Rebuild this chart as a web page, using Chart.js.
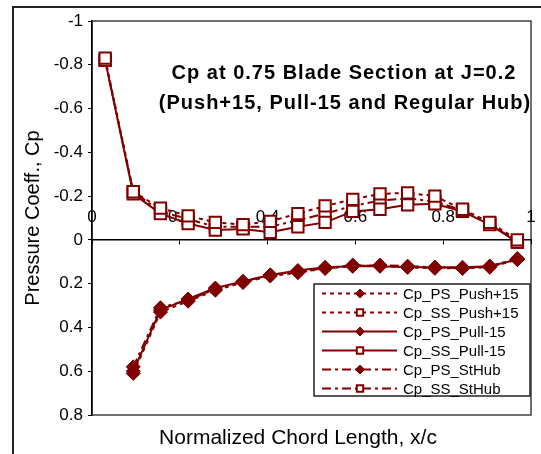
<!DOCTYPE html>
<html>
<head>
<meta charset="utf-8">
<script src="https://cdn.jsdelivr.net/npm/chart.js@4.4.0/dist/chart.umd.min.js"></script>
<style>
    html, body { margin: 0; padding: 0; background: #fff; }
    #wrap { position: relative; width: 541px; height: 454px; }
</style>
</head>
<body>
<div id="wrap"><canvas id="cp-chart" width="541" height="454"></canvas></div>
<script>
// chord stations (x/c)
const xSS = [0.03, 0.094, 0.156, 0.219, 0.281, 0.344, 0.406, 0.469, 0.531, 0.594, 0.656, 0.719, 0.781, 0.844, 0.906, 0.969];
const xPS = [0.094, 0.156, 0.219, 0.281, 0.344, 0.406, 0.469, 0.531, 0.594, 0.656, 0.719, 0.781, 0.844, 0.906, 0.969];

// pressure side
const psPush = [0.61, 0.33, 0.28, 0.23, 0.195, 0.165, 0.15, 0.13, 0.115, 0.12, 0.125, 0.13, 0.13, 0.125, 0.09];
const psPull = [0.6, 0.32, 0.27, 0.22, 0.19, 0.16, 0.14, 0.125, 0.12, 0.12, 0.125, 0.125, 0.125, 0.12, 0.09];
const psHub = [0.58, 0.31, 0.275, 0.225, 0.19, 0.16, 0.145, 0.13, 0.12, 0.115, 0.12, 0.125, 0.13, 0.12, 0.085];

// suction side
const ssPush = [-0.83, -0.22, -0.145, -0.11, -0.08, -0.07, -0.085, -0.12, -0.155, -0.185, -0.21, -0.215, -0.2, -0.14, -0.08, 0.0];
const ssPull = [-0.82, -0.21, -0.12, -0.075, -0.045, -0.05, -0.035, -0.06, -0.08, -0.13, -0.14, -0.16, -0.165, -0.13, -0.07, 0.01];
const ssHub = [-0.82, -0.22, -0.13, -0.095, -0.06, -0.06, -0.06, -0.09, -0.12, -0.155, -0.18, -0.19, -0.175, -0.135, -0.075, 0.01];

const seriesNames = ['Cp_PS_Push+15', 'Cp_SS_Push+15', 'Cp_PS_Pull-15', 'Cp_SS_Pull-15', 'Cp_PS_StHub', 'Cp_SS_StHub'];
const titleLines = ['Cp at 0.75 Blade Section at J=0.2', '(Push+15, Pull-15 and Regular Hub)'];
const xTitle = 'Normalized Chord Length, x/c';
const yTitle = 'Pressure Coeff., Cp';

const RED = '#800000';
const FONT = "'Liberation Sans', Arial, sans-serif";

const toPoints = (xs, ys) => xs.map((x, i) => ({ x: x, y: ys[i] }));

const makeSet = (label, xs, ys, dash, isSuction) => ({
    label: label,
    data: toPoints(xs, ys),
    borderColor: RED,
    borderWidth: 2,
    borderDash: dash,
    tension: 0,
    pointStyle: isSuction ? 'rect' : 'rectRot',
    pointRadius: isSuction ? 8 : 7,
    pointBorderWidth: isSuction ? 2 : 1,
    pointBorderColor: RED,
    pointBackgroundColor: isSuction ? '#fff' : RED
});

const dashPush = [4, 4];
const dashPull = [];
const dashHub = [9, 4, 3, 4];

// frame + plot border under the data
const framePlugin = {
    id: 'frame',
    beforeDraw(chart) {
        const ctx = chart.ctx;
        const a = chart.chartArea;
        ctx.save();
        ctx.fillStyle = '#fff';
        ctx.fillRect(0, 0, chart.width, chart.height);
        ctx.strokeStyle = '#222';
        ctx.lineWidth = 2;
        ctx.strokeRect(13, 7, 700, 700);
        ctx.strokeStyle = '#404040';
        ctx.lineWidth = 1.5;
        ctx.strokeRect(a.left, a.top, a.right - a.left, a.bottom - a.top);
        ctx.restore();
    }
};

// titles and legend drawn inside the plot like the excel original
const overlayPlugin = {
    id: 'overlay',
    afterDraw(chart) {
        const ctx = chart.ctx;
        ctx.save();
        ctx.fillStyle = '#000';
        ctx.textAlign = 'center';
        ctx.textBaseline = 'middle';
        ctx.letterSpacing = '1px';
        ctx.font = 'bold 20px ' + FONT;
        ctx.fillText(titleLines[0], 344, 73);
        ctx.fillText(titleLines[1], 345, 103);

        ctx.letterSpacing = '0px';
        ctx.font = '21px ' + FONT;
        ctx.fillText(xTitle, 298, 438);

        // legend
        const box = { left: 314, top: 284, right: 530, bottom: 396 };
        ctx.fillStyle = '#fff';
        ctx.fillRect(box.left, box.top, box.right - box.left, box.bottom - box.top);
        ctx.strokeStyle = '#222';
        ctx.lineWidth = 1.5;
        ctx.strokeRect(box.left, box.top, box.right - box.left, box.bottom - box.top);
        ctx.textAlign = 'left';
        ctx.font = '15px ' + FONT;
        chart.data.datasets.forEach((ds, i) => {
            const y = box.top + 9.5 + i * 19;
            ctx.strokeStyle = ds.borderColor;
            ctx.lineWidth = 2;
            ctx.setLineDash(ds.borderDash);
            ctx.beginPath();
            ctx.moveTo(322, y);
            ctx.lineTo(397, y);
            ctx.stroke();
            ctx.setLineDash([]);
            ctx.fillStyle = ds.pointBackgroundColor;
            ctx.strokeStyle = ds.pointBorderColor;
            ctx.lineWidth = ds.pointBorderWidth;
            Chart.helpers.drawPoint(ctx, {
                pointStyle: ds.pointStyle,
                radius: 4.5,
                rotation: 0,
                borderWidth: ds.pointBorderWidth
            }, 360, y);
            ctx.fillStyle = '#000';
            ctx.fillText(ds.label, 403, y + 1);
        });
        ctx.restore();
    }
};

const ctx = document.getElementById('cp-chart').getContext('2d');
new Chart(ctx, {
    type: 'line',
    data: {
        datasets: [
            makeSet(seriesNames[0], xPS, psPush, dashPush, false),
            makeSet(seriesNames[1], xSS, ssPush, dashPush, true),
            makeSet(seriesNames[2], xPS, psPull, dashPull, false),
            makeSet(seriesNames[3], xSS, ssPull, dashPull, true),
            makeSet(seriesNames[4], xPS, psHub, dashHub, false),
            makeSet(seriesNames[5], xSS, ssHub, dashHub, true)
        ]
    },
    options: {
        responsive: false,
        animation: false,
        devicePixelRatio: 1,
        layout: {
            padding: { left: 0, top: 21, right: 6, bottom: 39 }
        },
        plugins: {
            legend: { display: false },
            tooltip: { enabled: false }
        },
        scales: {
            x: {
                type: 'linear',
                min: 0,
                max: 1,
                position: { y: 0 },
                afterFit: (scale) => { scale.paddingLeft = 0; scale.paddingRight = 0; },
                grid: { drawOnChartArea: false, tickLength: 4, color: '#000' },
                border: { color: '#000', width: 1.5 },
                ticks: {
                    stepSize: 0.2,
                    padding: -37,
                    color: '#000',
                    font: { family: FONT, size: 17 },
                    callback: (v) => String(Number(v.toFixed(1)))
                }
            },
            y: {
                type: 'linear',
                position: 'left',
                reverse: true,
                min: -1,
                max: 0.8,
                afterFit: (scale) => { scale.width = 92; },
                grid: { drawOnChartArea: false, tickLength: 4, color: '#000' },
                border: { color: '#000', width: 1.5 },
                ticks: {
                    stepSize: 0.2,
                    padding: 5,
                    color: '#000',
                    font: { family: FONT, size: 17 },
                    callback: (v) => String(Number(v.toFixed(1)))
                },
                title: {
                    display: true,
                    text: yTitle,
                    color: '#000',
                    font: { family: FONT, size: 20 },
                    padding: { top: 21, bottom: 0 }
                }
            }
        }
    },
    plugins: [framePlugin, overlayPlugin]
});
</script>
</body>
</html>
